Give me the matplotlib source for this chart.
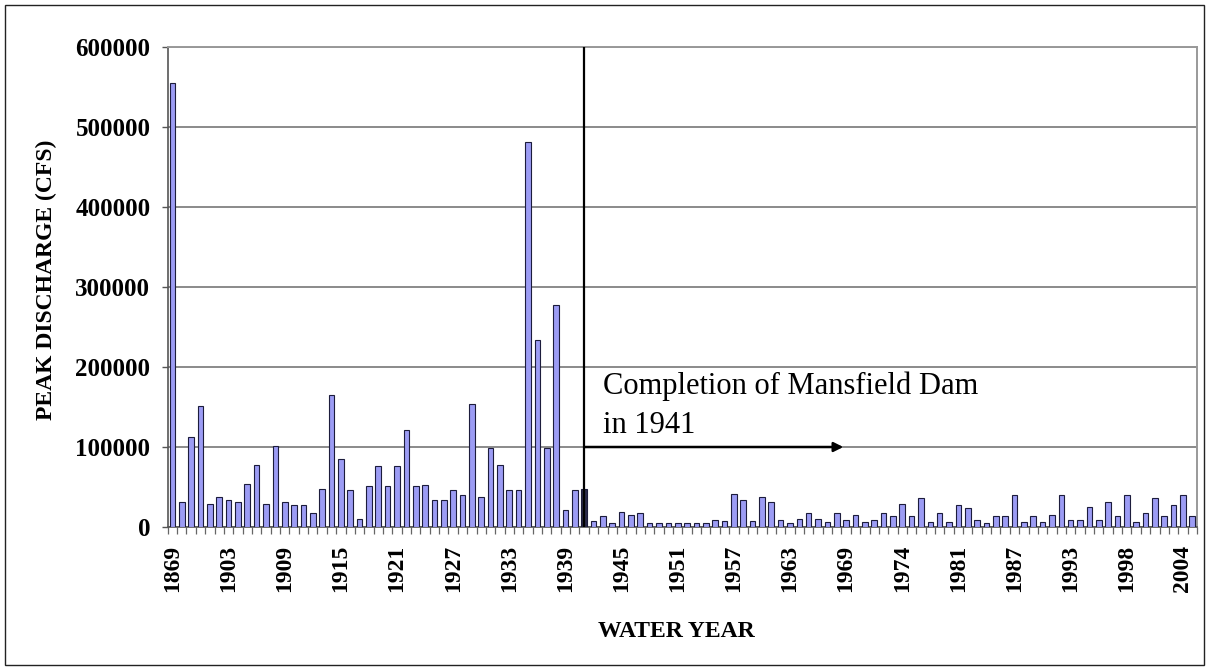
import numpy as np
import matplotlib
matplotlib.use('Agg')
import matplotlib.pyplot as plt
from matplotlib.patches import Rectangle

# water years (category labels, one per bar)
years = ['1869', '1898', '1899', '1900', '1901', '1902',
         '1903', '1904', '1905', '1906', '1907', '1908', '1909', '1910', '1911', '1912',
         '1913', '1914', '1915', '1916', '1917', '1918', '1919', '1920', '1921', '1922',
         '1923', '1924', '1925', '1926', '1927', '1928', '1929', '1930', '1931', '1932',
         '1933', '1934', '1935', '1936', '1937', '1938', '1939', '1940', '1941', '1942',
         '1943', '1944', '1945', '1946', '1947', '1948', '1949', '1950', '1951', '1952',
         '1953', '1954', '1955', '1956', '1957', '1958', '1959', '1960', '1961', '1962',
         '1963', '1964', '1965', '1966', '1967', '1968', '1969', '1970', '1971', '1972',
         '1973', '1973', '1974', '1975', '1976', '1977', '1978', '1979', '1981', '1982',
         '1983', '1984', '1985', '1986', '1987', '1988', '1989', '1990', '1991', '1992',
         '1993', '1994', '1995', '1996', '1997', '1997', '1998', '1999', '2000', '2001',
         '2002', '2003', '2004', '2005']

# peak discharge in cfs
peaks = [555000, 31000, 112500, 151000, 29000, 37500,
         33500, 31000, 54000, 78000, 29000, 101000, 31000, 27000, 27000, 17500,
         48000, 164500, 84500, 46000, 10500, 51000, 76000, 51000, 76000, 121000,
         51000, 53000, 33500, 33500, 46000, 39500, 154000, 37500, 99000, 78000,
         46000, 46000, 481000, 234000, 99000, 277000, 21500, 46000, 48000, 7000,
         13500, 5000, 19000, 14500, 17000, 4500, 4500, 4500, 4500, 4500,
         4500, 4500, 9000, 7000, 41500, 33500, 7000, 37500, 31500, 9000,
         4500, 10000, 17000, 10500, 6500, 17000, 9000, 14500, 6500, 9000,
         17000, 13500, 29000, 13500, 36000, 6500, 17000, 6500, 27000, 23500,
         9000, 4500, 13500, 13500, 40000, 6000, 13500, 6500, 14500, 40000,
         9000, 9000, 24500, 9000, 31500, 13500, 40000, 6500, 17000, 36000,
         13500, 27000, 40000, 13500]

dam_year = '1941'
y_ticks = [0, 100000, 200000, 300000, 400000, 500000, 600000]

serif = 'Liberation Serif'

fig = plt.figure(figsize=(12.07, 6.70), dpi=100)
ax = fig.add_axes([0.139, 0.2134, 0.8527, 0.7165])

x = np.arange(len(years))
dam_idx = years.index(dam_year)
colors = ['#9c9cf4'] * len(years)
colors[dam_idx] = '#2b2b4a'
ax.bar(x, peaks, width=0.6, color=colors, edgecolor='#1c1c3c', linewidth=0.8, zorder=3)

ax.set_xlim(-0.5, len(years) - 0.5)
ax.set_ylim(0, 600000)
ax.set_yticks(y_ticks)
ax.set_yticklabels([str(v) for v in y_ticks], fontfamily=serif, fontweight='bold', fontsize=18)
ax.yaxis.grid(True, color='#8a8a8a', linewidth=1.4, zorder=0)
ax.tick_params(axis='y', length=4.5, width=1, color='#555555', pad=8)

# labels every 6th category, tick marks between categories (Excel style)
major = x[::6]
ax.set_xticks(major)
ax.set_xticklabels([years[i] for i in major], rotation=90, fontfamily=serif,
                   fontweight='bold', fontsize=17)
ax.set_xticks(np.arange(len(years) + 1) - 0.5, minor=True)
ax.tick_params(axis='x', which='major', length=0, pad=13)
ax.tick_params(axis='x', which='minor', length=5, width=0.9, color='#666666')

for side in ['top', 'right']:
    ax.spines[side].set_color('#999999')
    ax.spines[side].set_linewidth(1.4)
for side in ['left', 'bottom']:
    ax.spines[side].set_color('#555555')
    ax.spines[side].set_linewidth(1.2)

ax.set_ylabel('PEAK DISCHARGE (CFS)', fontfamily=serif, fontweight='bold', fontsize=17)
ax.yaxis.set_label_coords(-0.108, 0.515)
ax.set_xlabel('WATER YEAR', fontfamily=serif, fontweight='bold', fontsize=17)
ax.xaxis.set_label_coords(0.494, -0.196)

# dam completion marker
ax.plot([dam_idx, dam_idx], [0, 600000], color='black', linewidth=1.6, zorder=4)
ax.annotate('', xy=(71.7, 100000), xytext=(dam_idx, 100000),
            arrowprops=dict(arrowstyle='-|>', color='black', lw=1.8,
                            mutation_scale=14, shrinkA=0, shrinkB=0), zorder=5)
ax.text(46.0, 109000, 'Completion of Mansfield Dam\nin 1941', fontfamily=serif,
        fontsize=22, ha='left', va='bottom', linespacing=1.45, zorder=5)

fig.add_artist(Rectangle((5 / 1207, 5 / 670), 1 - 8 / 1207, 1 - 10 / 670,
                         transform=fig.transFigure, fill=False,
                         edgecolor='#222222', linewidth=1))

fig.savefig('out.png', dpi=100)
